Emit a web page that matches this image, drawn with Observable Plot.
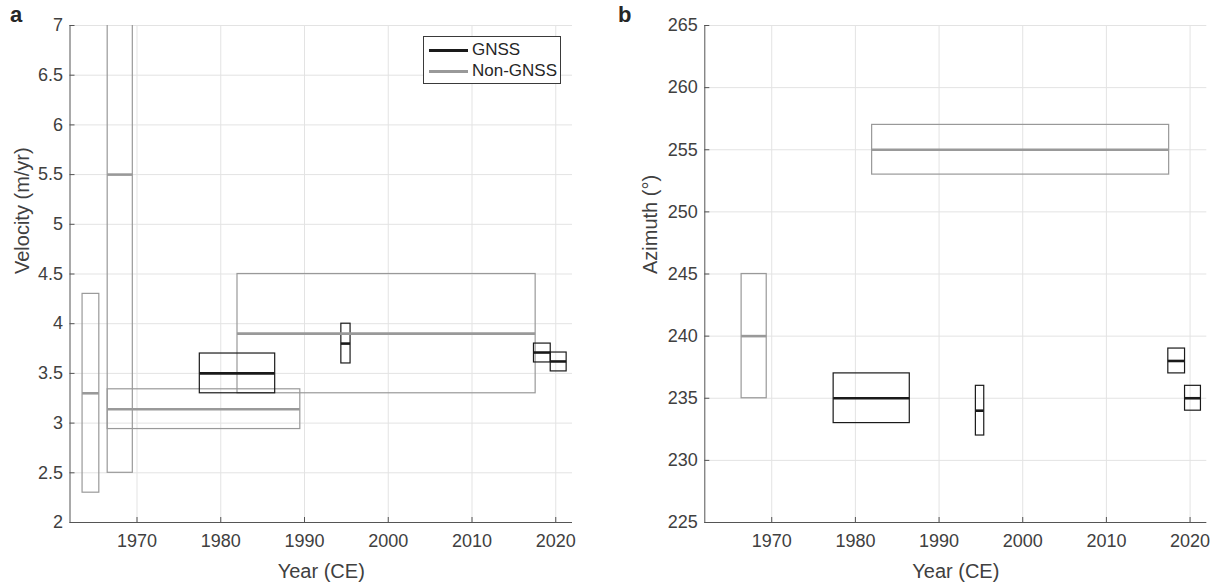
<!DOCTYPE html>
<html><head><meta charset="utf-8">
<script src="https://cdn.jsdelivr.net/npm/d3@7"></script>
<script src="https://cdn.jsdelivr.net/npm/@observablehq/plot@0.6"></script>
<style>
body{margin:0;background:#fff;overflow:hidden;font-family:"Liberation Sans",Arial,sans-serif;}
#wrap{position:relative;width:1215px;height:584px;}
.panel{position:absolute;top:0;}
.plabel{position:absolute;top:2px;font-weight:bold;font-size:22px;color:#262626;}
#legend{position:absolute;left:423px;top:36px;width:136px;height:46px;border:1px solid #3a3a3a;background:#fff;}
.lline{position:absolute;left:5px;width:39px;height:3px;}
.ltext{position:absolute;left:48px;font-size:17px;color:#262626;line-height:20px;}
</style></head><body><div id="wrap"></div>
<script>
// Shared axis ticks
const xTicks = [1970, 1980, 1990, 2000, 2010, 2020];
const velTicks = [2, 2.5, 3, 3.5, 4, 4.5, 5, 5.5, 6, 6.5, 7];
const azTicks = [225, 230, 235, 240, 245, 250, 255, 260, 265];

// Panel a: velocity (m/yr)
const velType  = ["Non-GNSS", "Non-GNSS", "Non-GNSS", "GNSS", "Non-GNSS", "GNSS", "GNSS", "GNSS"];
const velStart = [1963.5, 1966.5, 1966.5, 1977.5, 1982.0, 1994.4, 2017.4, 2019.4];
const velEnd   = [1965.5, 1969.5, 1989.5, 1986.5, 2017.6, 1995.5, 2019.4, 2021.3];
const velValue = [3.3, 5.5, 3.14, 3.5, 3.9, 3.8, 3.71, 3.62];
const velLow   = [2.3, 2.5, 2.94, 3.3, 3.3, 3.6, 3.61, 3.52];
const velHigh  = [4.3, 8.5, 3.34, 3.7, 4.5, 4.0, 3.80, 3.71];

// Panel b: azimuth (deg)
const azType  = ["Non-GNSS", "GNSS", "Non-GNSS", "GNSS", "GNSS", "GNSS"];
const azStart = [1966.4, 1977.4, 1982.0, 1994.4, 2017.4, 2019.4];
const azEnd   = [1969.4, 1986.5, 2017.5, 1995.4, 2019.4, 2021.3];
const azValue = [240, 235, 255, 234, 238, 235];
const azLow   = [235, 233, 253, 232, 237, 234];
const azHigh  = [245, 237, 257, 236, 239, 236];

const seriesNames = ["GNSS", "Non-GNSS"];
const seriesColors = ["#1a1a1a", "#999999"];

function panel({type, start, end, value, low, high, yDomain, yTicks, ylabel, ylabelX, width, marginLeft, marginRight}) {
  const rows = type.map((t, i) => ({type: t, x1: start[i], x2: end[i], y: value[i], lo: low[i], hi: high[i]}))
    .sort((a, b) => (a.type === "GNSS") - (b.type === "GNSS"));
  const height = 584, marginTop = 25, marginBottom = 62;
  const ph = height - marginTop - marginBottom;
  const pw = width - marginLeft - marginRight;
  const axisColor = "#555555";
  return Plot.plot({
    width, height, marginLeft, marginRight, marginTop, marginBottom,
    x: {domain: [1962, 2022]},
    y: {domain: yDomain},
    color: {type: "ordinal", domain: seriesNames, range: seriesColors},
    style: {fontFamily: '"Liberation Sans", Arial, sans-serif', fontSize: "18px", color: "#404040", background: "transparent", overflow: "visible"},
    marks: [
      Plot.gridX(xTicks, {stroke: "#e3e3e3", strokeOpacity: 1}),
      Plot.gridY(yTicks, {stroke: "#e3e3e3", strokeOpacity: 1}),
      Plot.rect(rows, {x1: "x1", x2: "x2", y1: "lo", y2: "hi", fill: "none", stroke: "type", strokeWidth: 1.2, clip: true}),
      Plot.ruleY(rows, {x1: "x1", x2: "x2", y: "y", stroke: "type", strokeWidth: 2.6}),
      Plot.axisX(xTicks, {tickSize: 0, tickPadding: 12, label: null, fill: "#404040", fontSize: 18, tickFormat: d => String(d)}),
      Plot.axisY(yTicks, {tickSize: 0, tickPadding: 7, label: null, fill: "#404040", fontSize: 18, tickFormat: d => String(d)}),
      Plot.tickX(xTicks, {x: d => d, stroke: axisColor, insetTop: ph - 5}),
      Plot.tickY(yTicks, {y: d => d, stroke: axisColor, insetRight: pw - 5}),
      Plot.ruleX([1962], {stroke: axisColor}),
      Plot.ruleY([yDomain[0]], {stroke: axisColor}),
      Plot.text(["Year (CE)"], {frameAnchor: "bottom", dy: 55, lineAnchor: "bottom", fontSize: 20, fill: "#404040"}),
      Plot.text([ylabel], {frameAnchor: "left", dx: -(marginLeft - ylabelX), rotate: -90, fontSize: 20, fill: "#404040"})
    ]
  });
}

const wrap = document.getElementById("wrap");
const a = panel({type: velType, start: velStart, end: velEnd, value: velValue, low: velLow, high: velHigh,
  yDomain: [2, 7], yTicks: velTicks, ylabel: "Velocity (m/yr)", ylabelX: 22,
  width: 607, marginLeft: 69.5, marginRight: 35});
a.classList.add("panel"); a.style.left = "0px";
wrap.appendChild(a);

const b = panel({type: azType, start: azStart, end: azEnd, value: azValue, low: azLow, high: azHigh,
  yDomain: [225, 265], yTicks: azTicks, ylabel: "Azimuth (°)", ylabelX: 43,
  width: 608, marginLeft: 97.3, marginRight: 8.7});
b.classList.add("panel"); b.style.left = "607px";
wrap.appendChild(b);

// panel letters
for (const [t, x] of [["a", 10], ["b", 618]]) {
  const d = document.createElement("div");
  d.className = "plabel"; d.textContent = t; d.style.left = x + "px";
  wrap.appendChild(d);
}

// legend
const lg = document.createElement("div");
lg.id = "legend";
seriesNames.forEach((name, i) => {
  const ln = document.createElement("div");
  ln.className = "lline"; ln.style.background = seriesColors[i]; ln.style.top = (12 + i * 21) + "px";
  const tx = document.createElement("div");
  tx.className = "ltext"; tx.textContent = name; tx.style.top = (3 + i * 21) + "px";
  lg.appendChild(ln); lg.appendChild(tx);
});
wrap.appendChild(lg);
</script>
</body></html>
